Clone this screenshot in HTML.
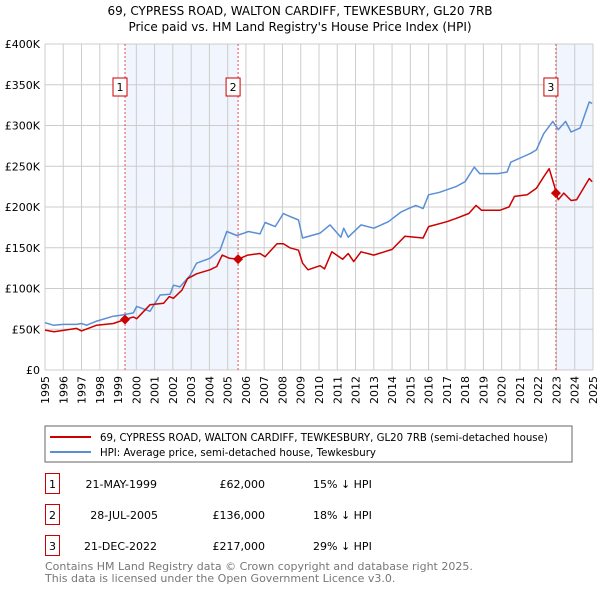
<!DOCTYPE html>
<html><head><meta charset="utf-8"><style>
body{margin:0;background:#fff;font-family:"DejaVu Sans","Liberation Sans",sans-serif;}
svg text{font-family:"DejaVu Sans","Liberation Sans",sans-serif;}
</style></head><body>
<svg id="chart" width="600" height="590" viewBox="0 0 600 590" xmlns="http://www.w3.org/2000/svg">
<text x="300" y="15" text-anchor="middle" font-size="12">69, CYPRESS ROAD, WALTON CARDIFF, TEWKESBURY, GL20 7RB</text>
<text x="300" y="31" text-anchor="middle" font-size="12">Price paid vs. HM Land Registry's House Price Index (HPI)</text>
<g id="grid"></g><g id="series"></g><g id="axes"></g>
<rect x="45" y="426" width="527" height="36" fill="#fff" stroke="#666"/>
<line x1="50" y1="437" x2="91" y2="437" stroke="#cc0000" stroke-width="2"/>
<text x="100" y="441" font-size="10.2">69, CYPRESS ROAD, WALTON CARDIFF, TEWKESBURY, GL20 7RB (semi-detached house)</text>
<line x1="50" y1="452" x2="91" y2="452" stroke="#5b8fd4" stroke-width="2"/>
<text x="100" y="456" font-size="10.2">HPI: Average price, semi-detached house, Tewkesbury</text>
<g font-size="11">
<rect x="45.5" y="473.5" width="14" height="20" fill="#fff" stroke="#cc0000"/><text x="52.5" y="488" text-anchor="middle">1</text>
<text x="157" y="488" text-anchor="end">21-MAY-1999</text><text x="265" y="488" text-anchor="end">£62,000</text><text x="313" y="488">15% ↓ HPI</text>
<rect x="45.5" y="504.5" width="14" height="20" fill="#fff" stroke="#cc0000"/><text x="52.5" y="519" text-anchor="middle">2</text>
<text x="158" y="519" text-anchor="end">28-JUL-2005</text><text x="265" y="519" text-anchor="end">£136,000</text><text x="313" y="519">18% ↓ HPI</text>
<rect x="45.5" y="535.5" width="14" height="20" fill="#fff" stroke="#cc0000"/><text x="52.5" y="550" text-anchor="middle">3</text>
<text x="157" y="550" text-anchor="end">21-DEC-2022</text><text x="265" y="550" text-anchor="end">£217,000</text><text x="313" y="550">29% ↓ HPI</text>
</g>
<text x="45" y="570" font-size="11" fill="#777">Contains HM Land Registry data © Crown copyright and database right 2025.</text>
<text x="45" y="582" font-size="11" fill="#777">This data is licensed under the Open Government Licence v3.0.</text>
</svg>
<script>
const hpiYears=[1995.0,1995.46,1996.0,1996.73,1997.0,1997.28,1997.83,1998.74,1999.1,1999.84,2000.02,2000.75,2001.3,2001.85,2002.03,2002.39,2002.94,2003.3,2004.03,2004.58,2004.95,2005.5,2005.77,2006.14,2006.77,2007.05,2007.6,2008.05,2008.24,2008.88,2009.1,2010.06,2010.6,2011.2,2011.35,2011.6,2012.3,2013.0,2013.8,2014.5,2014.9,2015.3,2015.7,2016.0,2016.6,2017.5,2018.0,2018.5,2018.8,2019.8,2020.3,2020.5,2021.2,2021.6,2021.9,2022.3,2022.8,2023.1,2023.5,2023.8,2024.3,2024.8,2024.95];
const hpiValues=[58,55,56,56,57,55,60,66,67,70,78,72,92,93,104,102,116,131,137,147,170,165,167,170,167,181,176,192,190,184,162,168,178,163,174,163,178,174,182,194,198,202,198,215,218,225,231,249,241,241,243,255,262,266,270,290,305,295,305,292,297,329,327];
const ppYears=[1995.0,1995.5,1996.73,1997.0,1997.83,1998.74,1999.38,1999.84,2000.02,2000.75,2001.5,2001.8,2002.03,2002.5,2002.8,2003.3,2004.03,2004.4,2004.7,2005.1,2005.57,2006.1,2006.77,2007.05,2007.7,2008.05,2008.4,2008.88,2009.1,2009.4,2010.06,2010.3,2010.7,2011.3,2011.6,2011.9,2012.3,2013.0,2014.0,2014.7,2015.7,2016.0,2017.0,2017.5,2018.2,2018.6,2018.9,2019.9,2020.4,2020.7,2021.4,2021.9,2022.3,2022.6,2022.9,2022.97,2023.1,2023.4,2023.8,2024.1,2024.8,2024.95];
const ppValues=[49,47,51,48,55,57,62,65,63,80,82,90,88,98,112,118,123,127,141,137,136,141,143,139,155,155,150,147,131,123,128,124,145,136,143,133,145,141,148,164,162,176,182,186,192,202,196,196,200,213,215,223,237,247,225,217,209,217,208,209,235,231];
const saleYears=[1999.38,2005.57,2022.97];
const saleValues=[62000,136000,217000];
const saleLabels=["1","2","3"];
const yTicks=[0,50,100,150,200,250,300,350,400];
const yTickLabels=["£0","£50K","£100K","£150K","£200K","£250K","£300K","£350K","£400K"];
const xTicks=[1995,1996,1997,1998,1999,2000,2001,2002,2003,2004,2005,2006,2007,2008,2009,2010,2011,2012,2013,2014,2015,2016,2017,2018,2019,2020,2021,2022,2023,2024,2025];

const X0=45,X1=593,Y0=370,Y1=44;
const xs=y=>X0+(y-1995)/30*(X1-X0);
const ys=v=>Y0-v/400*(Y0-Y1);
const NS="http://www.w3.org/2000/svg";
function mk(tag,attrs,parent){const e=document.createElementNS(NS,tag);for(const k in attrs)e.setAttribute(k,attrs[k]);parent.appendChild(e);return e;}
const grid=document.getElementById('grid'),series=document.getElementById('series'),axes=document.getElementById('axes');
for(let i=0;i<saleYears.length;i++){
  const a=saleYears[i],b=i+1<saleYears.length?saleYears[i+1]:2025;
  if(i===1)continue;
  const r=mk('rect',{x:xs(a),y:Y1,width:xs(b)-xs(a),height:Y0-Y1,fill:'#eef3fc',opacity:0.8},grid);
  
  
}
xTicks.forEach(t=>{const l=mk('line',{x1:xs(t),x2:xs(t),y1:Y1,y2:Y0,stroke:'#ccc','stroke-width':1},grid);
  
  
  const tx=mk('text',{x:0,y:0,'font-size':11,'text-anchor':'end',transform:`translate(${xs(t)+4},376) rotate(-90)`},axes);
  tx.textContent=t;
  
  
});
yTicks.forEach((t,i)=>{const l=mk('line',{x1:X0,x2:X1,y1:ys(t),y2:ys(t),stroke:'#ccc','stroke-width':1},grid);
  
  
  const tx=mk('text',{x:40,y:ys(t)+4,'font-size':11,'text-anchor':'end'},axes);
  tx.textContent=yTickLabels[i];
  
  
});
saleYears.forEach((y,i)=>{const l=mk('line',{x1:xs(y),x2:xs(y),y1:Y1,y2:Y0,stroke:'#e05050','stroke-width':1,'stroke-dasharray':'2,2'},grid);
  
  
});
function path(xsArr,vals,color,name){
  const d=xsArr.map((y,i)=>(i?'L':'M')+xs(y).toFixed(1)+','+ys(vals[i]).toFixed(1)).join('');
  const p=mk('path',{d:d,fill:'none',stroke:color,'stroke-width':1.5,'stroke-linejoin':'round'},series);
  
  
}
path(hpiYears,hpiValues,'#5b8fd4','hpi-line');
path(ppYears,ppValues,'#cc0000','property-price-line');
saleYears.forEach((y,i)=>{
  const cx=xs(y),cy=ys(saleValues[i]/1000);
  const m=mk('path',{d:`M${cx},${cy-5}L${cx+5},${cy}L${cx},${cy+5}L${cx-5},${cy}Z`,fill:'#cc0000'},series);
  
  
  const b=mk('rect',{x:cx-12,y:78,width:14,height:18,fill:'#fff',stroke:'#cc0000'},series);
  
  
  const t=mk('text',{x:cx-5,y:91,'font-size':11,'text-anchor':'middle'},series);
  t.textContent=saleLabels[i];
  
  
});
</script>
</body></html>
